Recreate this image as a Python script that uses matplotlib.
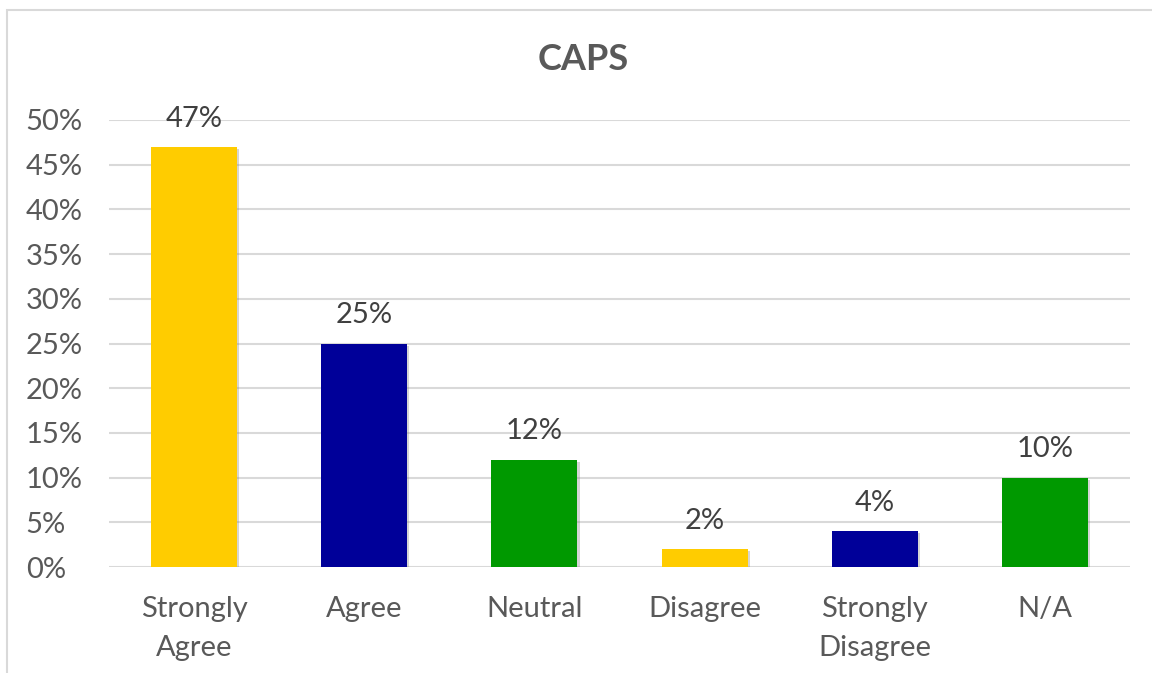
import matplotlib
matplotlib.use("Agg")
import matplotlib.pyplot as plt
from matplotlib.patches import Rectangle
from matplotlib.ticker import PercentFormatter
import matplotlib.patheffects as pe

# data
categories = ["Strongly\nAgree", "Agree", "Neutral", "Disagree", "Strongly\nDisagree", "N/A"]
values = [0.47, 0.25, 0.12, 0.02, 0.04, 0.10]
bar_colors = ["#FFCC00", "#000099", "#009900", "#FFCC00", "#000099", "#009900"]
title = "CAPS"

plt.rcParams["font.family"] = ["Lato", "DejaVu Sans"]
text_color = "#595959"

fig = plt.figure(figsize=(11.52, 6.73), dpi=100)
# chart area border (runs off the right and bottom edge in the original)
fig.patches.append(Rectangle((7 / 1152, -0.1), 1.2, 1 - 10 / 673 + 0.1,
                             transform=fig.transFigure, fill=False,
                             edgecolor="#D9D9D9", linewidth=1.5))

ax = fig.add_axes([109 / 1152, 1 - 567 / 673, (1130 - 109) / 1152, (567 - 120) / 673])

x = range(len(categories))
bars = ax.bar(x, values, width=0.506, color=bar_colors, zorder=3)
for b in bars:
    b.set_path_effects([pe.SimplePatchShadow(offset=(1.5, -1.5), shadow_rgbFace="#888888", alpha=0.35),
                        pe.Normal()])

for xi, v in zip(x, values):
    ax.annotate(f"{v:.0%}", (xi, v), xytext=(0, 11), textcoords="offset points",
                ha="center", va="bottom", fontsize=21, color="#404040")

ax.set_xlim(-0.5, len(categories) - 0.5)
ax.set_ylim(0, 0.5)
ax.set_yticks([i * 0.05 for i in range(11)])
ax.yaxis.set_major_formatter(PercentFormatter(1.0, decimals=0))
ax.set_xticks(list(x))
ax.set_xticklabels(categories, linespacing=1.6)
ax.tick_params(axis="both", length=0, labelsize=21, labelcolor=text_color)
ax.tick_params(axis="x", pad=21)
ax.tick_params(axis="y", pad=60)
for lbl in ax.get_yticklabels():
    lbl.set_horizontalalignment("left")
ax.grid(axis="y", color="#D9D9D9", linewidth=1.5, zorder=0)
ax.set_axisbelow(True)
for s in ax.spines.values():
    s.set_visible(False)

fig.text(583 / 1152, 1 - 60 / 673, title, ha="center", va="center",
         fontsize=26, fontweight="bold", color=text_color)

fig.savefig("out.png", dpi=100)
